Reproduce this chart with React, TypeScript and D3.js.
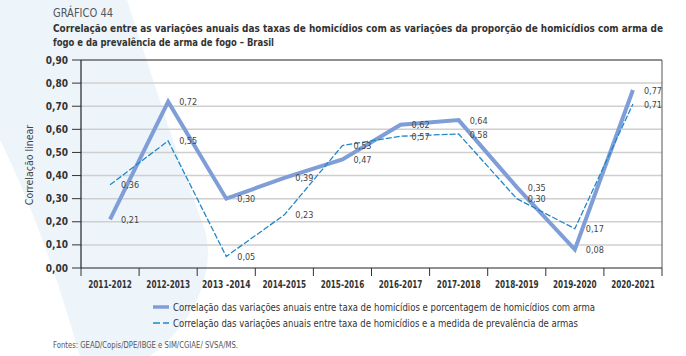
import React from "react";
import * as d3 from "d3";

const categories = ["2011-2012", "2012-2013", "2013 -2014", "2014-2015", "2015-2016", "2016-2017", "2017-2018", "2018-2019", "2019-2020", "2020-2021"];
const seriesArma = [0.21, 0.72, 0.30, 0.39, 0.47, 0.62, 0.64, 0.35, 0.08, 0.77];
const seriesPrevalencia = [0.36, 0.55, 0.05, 0.23, 0.53, 0.57, 0.58, 0.30, 0.17, 0.71];
const yTicks = [0, 0.1, 0.2, 0.3, 0.4, 0.5, 0.6, 0.7, 0.8, 0.9];
const legendLabels = [
  "Correlação das variações anuais entre taxa de homicídios e porcentagem de homicídios com arma",
  "Correlação das variações anuais entre taxa de homicídios e a medida de prevalência de armas",
];
const titleSmall = "GRÁFICO 44";
const titleLines = [
  "Correlação entre as variações anuais das taxas de homicídios com as variações da proporção de homicídios com arma de",
  "fogo e da prevalência de arma de fogo – Brasil",
];
const yTitle = "Correlação linear";
const source = "Fontes: GEAD/Copis/DPE/IBGE e SIM/CGIAE/ SVSA/MS.";

const FONT = "'DejaVu Sans Condensed', 'Liberation Sans Narrow', 'Liberation Sans', sans-serif";
const C1 = "#7f9ed8";
const C2 = "#1f88c9";

const fmt = (v: number) => v.toFixed(2).replace(".", ",");

export default function App() {
  const left = 81, right = 662, top = 60, bottom = 268;
  const x = d3.scaleBand<string>().domain(categories).range([left, right]).padding(0);
  const y = d3.scaleLinear().domain([0, 0.9]).range([bottom, top]);
  const cx = (c: string) => (x(c) as number) + x.bandwidth() / 2;

  const line = d3.line<number>().x((_, i) => cx(categories[i])).y((d) => y(d));

  const tickXs = categories.map((c) => x(c) as number).concat([right]);

  return (
    <svg width={686} height={356} style={{ position: "absolute", left: 0, top: 0, fontFamily: FONT }}>
      <rect x={0} y={0} width={686} height={356} fill="#ffffff" />
      <path d="M0,0 L127,0 C150,70 175,150 205,230 C215,265 200,320 150,356 L80,356 C55,270 30,200 0,140 Z" fill="#edf5fa" />

      <text x={53} y={17} fontSize={12} fill="#555" fontWeight={300} textLength={60} lengthAdjust="spacingAndGlyphs">{titleSmall}</text>
      <text x={53} y={32} fontSize={10} fill="#333" fontWeight={700} textLength={610} lengthAdjust="spacingAndGlyphs">{titleLines[0]}</text>
      <text x={53} y={46} fontSize={10} fill="#333" fontWeight={700} textLength={221} lengthAdjust="spacingAndGlyphs">{titleLines[1]}</text>

      {yTicks.filter((t) => t > 0 && t < 0.9).map((t) => (
        <line key={"g" + t} x1={left} x2={right} y1={y(t)} y2={y(t)} stroke="#cfcfcf" strokeWidth={1.5} />
      ))}

      {yTicks.map((t) => (
        <g key={"yt" + t}>
          <line x1={72} x2={left} y1={y(t)} y2={y(t)} stroke="#333" strokeWidth={1} />
          <text x={68} y={y(t)} dy="0.35em" textAnchor="end" fontSize={10} fill="#333" fontWeight={600}>{fmt(t)}</text>
        </g>
      ))}

      <line x1={left} x2={right} y1={top} y2={top} stroke="#222" strokeWidth={1.2} />
      <line x1={left} x2={right} y1={bottom} y2={bottom} stroke="#222" strokeWidth={1.2} />
      <line x1={left} x2={left} y1={top} y2={bottom} stroke="#222" strokeWidth={1.2} />
      <line x1={right} x2={right} y1={top} y2={bottom} stroke="#555" strokeWidth={1} />
      {tickXs.map((tx, i) => (
        <line key={"xt" + i} x1={tx} x2={tx} y1={bottom} y2={276} stroke="#333" strokeWidth={1} />
      ))}
      {categories.map((c) => (
        <text key={"xl" + c} x={cx(c)} y={288} textAnchor="middle" fontSize={10} fill="#333" fontWeight={600} textLength={c.length * 4.85} lengthAdjust="spacingAndGlyphs">{c}</text>
      ))}

      <text transform={`translate(33,165) rotate(-90)`} textAnchor="middle" fontSize={10.5} fill="#444">{yTitle}</text>

      <path d={line(seriesArma) || ""} fill="none" stroke={C1} strokeWidth={4} strokeLinejoin="miter" />
      <path d={line(seriesPrevalencia) || ""} fill="none" stroke={C2} strokeWidth={1.3} strokeDasharray="6,2" />

      {seriesArma.map((v, i) => (
        <text key={"l1" + i} x={cx(categories[i]) + 11} y={y(v)} dy="0.4em" fontSize={9} fill="#444">{fmt(v)}</text>
      ))}
      {seriesPrevalencia.map((v, i) => (
        <text key={"l2" + i} x={cx(categories[i]) + 11} y={y(v)} dy="0.4em" fontSize={9} fill="#444">{fmt(v)}</text>
      ))}

      <line x1={153} x2={169} y1={307} y2={307} stroke={C1} strokeWidth={3.5} />
      <line x1={153} x2={169} y1={323} y2={323} stroke={C2} strokeWidth={1.5} strokeDasharray="7,3" />
      <text x={173} y={307} dy="0.35em" fontSize={10.5} fill="#333" textLength={422} lengthAdjust="spacingAndGlyphs">{legendLabels[0]}</text>
      <text x={173} y={323} dy="0.35em" fontSize={10.5} fill="#333" textLength={405} lengthAdjust="spacingAndGlyphs">{legendLabels[1]}</text>

      <text x={53} y={348} fontSize={8.5} fill="#555" textLength={185} lengthAdjust="spacingAndGlyphs">{source}</text>
    </svg>
  );
}
